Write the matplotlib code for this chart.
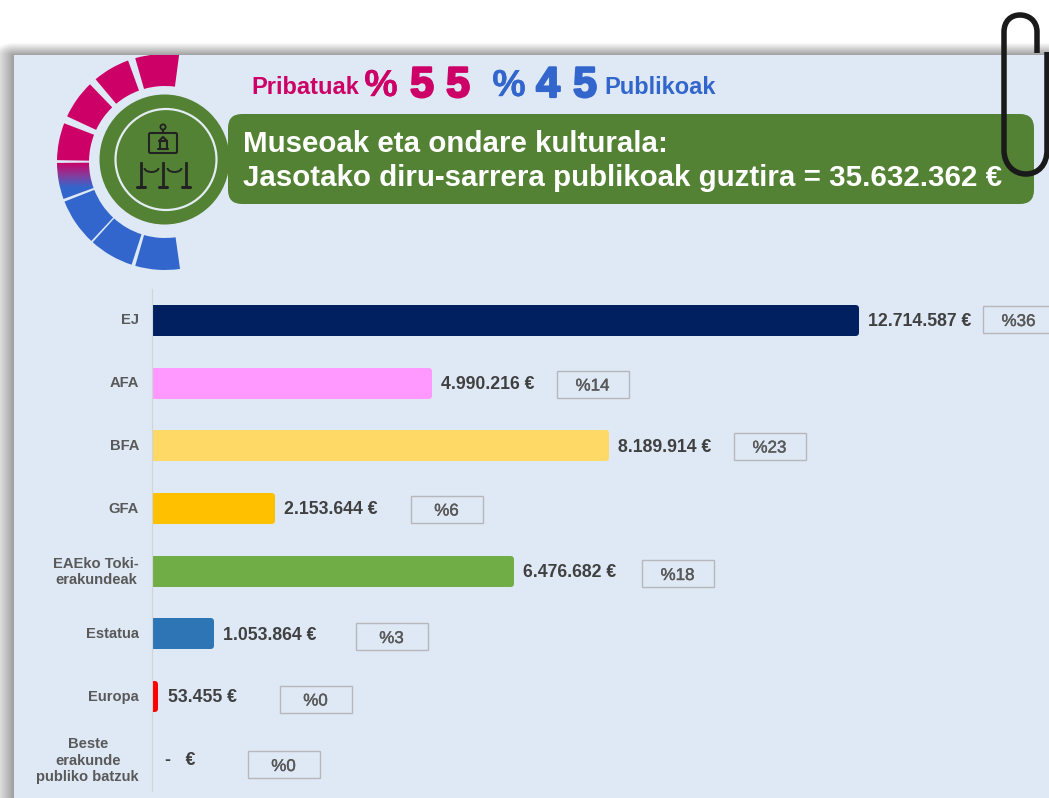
import numpy as np
import matplotlib
matplotlib.use("Agg")
import matplotlib.pyplot as plt
from matplotlib.patches import Rectangle, Circle, Wedge, FancyBboxPatch, Arc, PathPatch
from matplotlib.colors import LinearSegmentedColormap
from matplotlib.path import Path
from matplotlib.transforms import ScaledTranslation
import matplotlib.patheffects as pe

# ---- data ----
categories = ["EJ", "AFA", "BFA", "GFA", "EAEko Toki-\nerakundeak", "Estatua", "Europa",
              "Beste\nerakunde\npubliko batzuk"]
values = [12714587, 4990216, 8189914, 2153644, 6476682, 1053864, 53455, 0]
value_labels = ["12.714.587 €", "4.990.216 €", "8.189.914 €", "2.153.644 €", "6.476.682 €",
                "1.053.864 €", "53.455 €", "-   €"]
share_labels = ["%36", "%14", "%23", "%6", "%18", "%3", "%0", "%0"]
bar_colors = ["#002060", "#FF99FF", "#FFD966", "#FFC000", "#70AD47", "#2E75B6", "#FF0000", "#FF0000"]
title_lines = ["Museoak eta ondare kulturala:",
               "Jasotako diru-sarrera publikoak guztira = 35.632.362 €"]

# ---- layout (pixels) ----
W, H = 1049, 798
PINK, BLUE, GREEN = "#CC0066", "#3366CC", "#548235"
PANEL = "#DEE9F5"
LBL = "#595959"
SANS = ["Liberation Sans", "DejaVu Sans"]
px = 0.72
box_left = [982.5, 556.5, 733.5, 410.5, 641.5, 355.5, 279.5, 247.5]
box_mid = [319.5, 384, 446, 509, 573.5, 636.5, 699, 764.5]
segments = [(254, 277.5), (230, 250), (205, 226), (181, 201), (160, 179.5), (133, 158.5), (108, 132), (82, 106)]
seg_colors = [PINK, PINK, PINK, PINK, None, BLUE, BLUE, BLUE]

plt.rcParams["font.family"] = SANS
fig = plt.figure(figsize=(W / 100, H / 100), dpi=100, facecolor="white")

# ---- background layer ----
bg = fig.add_axes([0, 0, 1, 1], zorder=0)
bg.set_axis_off()
yy, xx = np.mgrid[0:H, 0:W]
dx = np.clip(14 - xx, 0, None) * 0.6
dy = np.clip(55 - yy, 0, None)
d = np.sqrt(dx ** 2 + dy ** 2)
shade = 255 - 100 * np.clip(1 - d / 13, 0, 1)
bg.imshow(shade, cmap="gray", vmin=0, vmax=255, extent=(0, W, H, 0), aspect="auto", interpolation="bilinear")
bg.set_xlim(0, W)
bg.set_ylim(H, 0)
bg.add_patch(Rectangle((14, 55), W - 14, H - 55, fc=PANEL, ec="none", zorder=1))

# gauge
cx, cy, r_out, r_in = 165, 162, 108, 76
panel_clip = Rectangle((14, 55), W - 14, H - 55, transform=bg.transData)
for (a, b), col in zip(segments, seg_colors):
    w = Wedge((cx, cy), r_out, a, b, width=r_out - r_in, fc=col if col else "none", ec="none", zorder=2)
    bg.add_patch(w)
    if col:
        w.set_clip_path(panel_clip)
    else:
        cmap = LinearSegmentedColormap.from_list("g", [PINK, "#8A3A9A", BLUE, BLUE])
        im = bg.imshow(np.linspace(0, 1, 64)[:, None], cmap=cmap, extent=(50, 110, 200, 162),
                       aspect="auto", zorder=2)
        im.set_clip_path(w)
bg.set_xlim(0, W)
bg.set_ylim(H, 0)

# header
bg.add_patch(Circle((164.5, 159.5), 65, fc=GREEN, ec="none", zorder=3))
bg.add_patch(Circle((166, 159.5), 50.5, fc="none", ec="#E4ECF4", lw=2.2 * px, zorder=4))
bg.add_patch(FancyBboxPatch((240, 126), 782, 66, boxstyle="round,pad=12,rounding_size=14",
                            fc=GREEN, ec="none", zorder=3))
for txt, yp in zip(title_lines, (143.5, 178)):
    bg.text(243, yp, txt, color="white", fontsize=21.25, fontweight="bold", va="center", ha="left", zorder=5)

# icon
ink = "#222222"
ik = dict(color=ink, lw=1.5, solid_capstyle="round", zorder=5)
bg.add_patch(FancyBboxPatch((149, 133), 28, 20, boxstyle="round,pad=0,rounding_size=1.5",
                            fc="none", ec=ink, lw=1.5, zorder=5))
bg.add_patch(Circle((163, 127), 2.6, fc="none", ec=ink, lw=1.3, zorder=5))
bg.plot([163, 163], [130, 133], **ik)
bg.plot([158, 168], [149, 149], **ik)
bg.plot([159.5, 159.5, 166.5, 166.5], [149, 141, 141, 149], **ik)
bg.plot([159, 163, 167], [141, 137, 141], **ik)
for xp in (140.5, 163, 186):
    bg.plot([xp, xp], [163, 186], color=ink, lw=2, zorder=5)
    bg.plot([xp - 4, xp + 4], [187, 187], color=ink, lw=2.2, solid_capstyle="round", zorder=5)
for xc in (151.5, 174.5):
    bg.add_patch(Arc((xc, 168), 14, 8, theta1=0, theta2=180, ec=ink, lw=1.4, zorder=5))

# headline
def big(x, s, c, fs=31, stroke=1.6):
    t = bg.text(x, 86, s, color=c, fontsize=fs, fontweight="bold", ha="center", va="center", zorder=5)
    t.set_path_effects([pe.withStroke(linewidth=stroke, foreground=c)])
bg.text(251, 87, "Pribatuak", color=PINK, fontsize=17, fontweight="bold", va="center", zorder=5)
bg.text(604, 87, "Publikoak", color=BLUE, fontsize=17, fontweight="bold", va="center", zorder=5)
big(381, "%", PINK, 27, 0.3)
big(422, "5", PINK)
big(458, "5", PINK)
big(509, "%", BLUE, 27, 0.3)
big(548, "4", BLUE)
big(585, "5", BLUE)

# ---- chart ----
s = (859 - 3 - 152.5) / 12714587
top, bottom = 289.0, 790.8
ax = fig.add_axes([152 / W, 1 - bottom / H, (W - 152) / W, (bottom - top) / H], zorder=1)
ax.patch.set_alpha(0)
ax.set_xlim(-0.5 / s, (W - 152.5) / s)
y = np.arange(len(categories))
ax.set_ylim(len(categories) - 0.5, -0.5)
unit = (bottom - top) / len(categories)
bars = ax.barh(y, values, height=(31 - 6) / unit, color=bar_colors, edgecolor=bar_colors,
               linewidth=6 * px)
for bar, v in zip(bars, values):
    bar.set_joinstyle("round")
    if v == 0:
        bar.set_visible(False)
ax.set_yticks(y, categories)
ax.set_xticks([])
ax.tick_params(axis="y", length=0, pad=13 * px)
lift = ScaledTranslation(0, 1.5 / 100, fig.dpi_scale_trans)
for t in ax.get_yticklabels():
    t.set_color(LBL)
    t.set_fontsize(10.6)
    t.set_fontweight("bold")
    t.set_multialignment("center")
    t.set_linespacing(1.2)
    t.set_transform(t.get_transform() + lift)
for k, sp in ax.spines.items():
    sp.set_visible(k == "left")
ax.spines["left"].set_color("#D0D5DA")
ax.spines["left"].set_linewidth(0.8)

for yi, v, lab in zip(y, values, value_labels):
    ax.annotate(lab, (v, yi), xytext=(12.5 * px, -1.2 * px), textcoords="offset points", va="center", ha="left",
                color="#404040", fontsize=12.7, fontweight="bold")

# share boxes
for xl, ym, lab in zip(box_left, box_mid, share_labels):
    bg.add_patch(Rectangle((xl, ym - 13.5), 72, 27, fc="none", ec="#B8B8BC", lw=1.0, zorder=3))
    t = bg.text(xl + 36, ym + 2, lab, color=LBL, fontsize=12.2, ha="center", va="center", zorder=4)
    t.set_path_effects([pe.withStroke(linewidth=0.3, foreground=LBL)])

# ---- paperclip ----
ov = fig.add_axes([0, 0, 1, 1], zorder=3)
ov.set_axis_off()
ov.patch.set_alpha(0)
ov.set_xlim(0, W)
ov.set_ylim(H, 0)
verts = [(1037, 53), (1037, 32), (1037, 20), (1028, 15), (1020, 15), (1011, 15), (1004, 21), (1004, 32),
         (1004, 150), (1004, 165), (1014, 174), (1026, 174), (1038, 174), (1047, 165), (1047, 150), (1047, 52)]
codes = [Path.MOVETO, Path.LINETO, Path.CURVE4, Path.CURVE4, Path.CURVE4, Path.CURVE4, Path.CURVE4, Path.CURVE4,
         Path.LINETO, Path.CURVE4, Path.CURVE4, Path.CURVE4, Path.CURVE4, Path.CURVE4, Path.CURVE4, Path.LINETO]
ov.add_patch(PathPatch(Path(verts, codes), fc="none", ec="#1A1A1A", lw=5.5 * px, capstyle="butt"))

fig.savefig("out.png", dpi=100)
